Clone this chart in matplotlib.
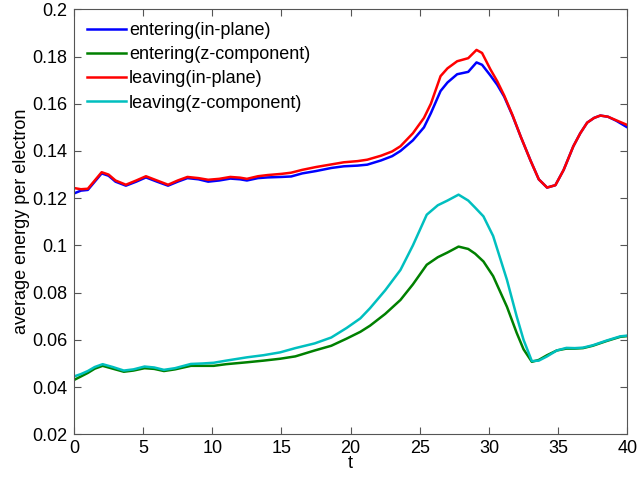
import matplotlib
matplotlib.use('Agg')
import matplotlib.pyplot as plt

plt.rcParams['font.family'] = ['Liberation Sans', 'DejaVu Sans']

# in-plane curves
t_in = [0, 0.5, 1, 1.5, 2, 2.5, 3, 3.75, 4.5, 5.2, 6, 6.8, 7.5, 8.2, 9, 9.7, 10.5, 11.3, 12, 12.5,
        13.3, 14, 15, 15.7, 16.5, 17.5, 18.6, 19.5, 20.5, 21.2, 22.2, 23, 23.6, 24.5, 25.3, 25.8,
        26.5, 27, 27.7, 28.5, 29.1, 29.5, 30.1, 30.6, 31.1, 31.7, 32.3, 33, 33.6, 34.2, 34.8, 35.4,
        36.1, 36.6, 37.1, 37.6, 38.05, 38.6, 39.2, 40]
entering_inplane = [0.1220, 0.1232, 0.1235, 0.1270, 0.1305, 0.1295, 0.1270, 0.1253, 0.1270, 0.1288,
                    0.1270, 0.1253, 0.1270, 0.1285, 0.1280, 0.1270, 0.1275, 0.1283, 0.1280, 0.1275,
                    0.1285, 0.1288, 0.1290, 0.1292, 0.1305, 0.1315, 0.1328, 0.1335, 0.1338, 0.1342,
                    0.1360, 0.1378, 0.1400, 0.1445, 0.1500, 0.1560, 0.1654, 0.1690, 0.1725, 0.1735,
                    0.1775, 0.1765, 0.1720, 0.1680, 0.1630, 0.1550, 0.1460, 0.1360, 0.1280, 0.1245,
                    0.1255, 0.1320, 0.1420, 0.1475, 0.1520, 0.1540, 0.1550, 0.1545, 0.1528, 0.1500]
leaving_inplane = [0.1243, 0.1238, 0.1240, 0.1275, 0.1310, 0.1300, 0.1275, 0.1257, 0.1275, 0.1293,
                   0.1275, 0.1257, 0.1275, 0.1290, 0.1285, 0.1278, 0.1282, 0.1290, 0.1287, 0.1282,
                   0.1293, 0.1298, 0.1303, 0.1308, 0.1320, 0.1332, 0.1343, 0.1352, 0.1357, 0.1363,
                   0.1380, 0.1398, 0.1420, 0.1475, 0.1540, 0.1600, 0.1717, 0.1750, 0.1780, 0.1793,
                   0.1828, 0.1815, 0.1746, 0.1695, 0.1635, 0.1552, 0.1460, 0.1360, 0.1280, 0.1245,
                   0.1255, 0.1320, 0.1420, 0.1475, 0.1520, 0.1540, 0.1550, 0.1545, 0.1530, 0.1510]

# z-component curves
t_z = [0, 0.5, 1, 1.5, 2.07, 2.8, 3.6, 4.3, 5.1, 5.8, 6.5, 7.3, 8.45, 9.3, 10.1, 11, 12.5, 13.7,
       14.9, 16, 17.4, 18.6, 19.7, 20.7, 21.4, 22.5, 23.6, 24.5, 25.5, 26.3, 27, 27.8, 28.5, 29,
       29.6, 30.3, 31.3, 32, 32.5, 33.1, 33.6, 34.2, 34.9, 35.6, 36.2, 36.8, 37.5, 38.5, 39.5, 40]
entering_z = [0.0430, 0.0445, 0.0460, 0.0478, 0.0490, 0.0478, 0.0465, 0.0470, 0.0480, 0.0477,
              0.0468, 0.0475, 0.0490, 0.0490, 0.0490, 0.0497, 0.0505, 0.0512, 0.0520, 0.0530,
              0.0555, 0.0575, 0.0605, 0.0634, 0.0660, 0.0710, 0.0769, 0.0835, 0.0918, 0.0950,
              0.0970, 0.0995, 0.0985, 0.0965, 0.0932, 0.0870, 0.0740, 0.0630, 0.0560, 0.0507,
              0.0515, 0.0535, 0.0555, 0.0563, 0.0563, 0.0565, 0.0575, 0.0595, 0.0613, 0.0616]
leaving_z = [0.0445, 0.0455, 0.0468, 0.0485, 0.0497, 0.0485, 0.0470, 0.0475, 0.0487, 0.0483,
             0.0473, 0.0480, 0.0498, 0.0500, 0.0503, 0.0512, 0.0526, 0.0535, 0.0547, 0.0565,
             0.0585, 0.0610, 0.0650, 0.0691, 0.0734, 0.0810, 0.0896, 0.1000, 0.1130, 0.1170,
             0.1190, 0.1215, 0.1190, 0.1160, 0.1123, 0.1040, 0.0854, 0.0700, 0.0600, 0.0510,
             0.0512, 0.0530, 0.0555, 0.0566, 0.0565, 0.0567, 0.0577, 0.0597, 0.0615, 0.0618]

fs = 13
fig = plt.figure(figsize=(6.37, 4.82), dpi=100)
ax = fig.add_axes([74/637, (482-434.3)/482, (627.3-74)/637, (434.3-9.3)/482])

lw = 1.8
ax.plot(t_in, entering_inplane, color='#0000ff', lw=lw, label='entering(in-plane)')
ax.plot(t_z, entering_z, color='#008000', lw=lw, label='entering(z-component)')
ax.plot(t_in, leaving_inplane, color='#ff0000', lw=lw, label='leaving(in-plane)')
ax.plot(t_z, leaving_z, color='#00bfbf', lw=lw, label='leaving(z-component)')

ax.set_xlim(0, 40)
ax.set_ylim(0.02, 0.2)
ax.set_xticks(range(0, 41, 5))
ax.set_yticks([0.02, 0.04, 0.06, 0.08, 0.1, 0.12, 0.14, 0.16, 0.18, 0.2])
ax.set_yticklabels(['0.02', '0.04', '0.06', '0.08', '0.1', '0.12', '0.14', '0.16', '0.18', '0.2'])
ax.tick_params(direction='in', top=True, right=True, length=5, width=0.8,
               color='#555555', labelsize=fs)
ax.tick_params(axis='y', pad=5)
ax.tick_params(axis='x', pad=4)
for s in ax.spines.values():
    s.set_color('#555555')
    s.set_linewidth(0.8)

ax.set_xlabel('t', fontsize=fs, labelpad=-1)
ax.set_ylabel('average energy per electron', fontsize=fs, labelpad=1)

ax.legend(loc='upper left', frameon=False, fontsize=fs, handlelength=2.2,
          handletextpad=0.15, labelspacing=0.4, borderaxespad=0.3,
          borderpad=0.4)

fig.savefig('out.png', dpi=100)
